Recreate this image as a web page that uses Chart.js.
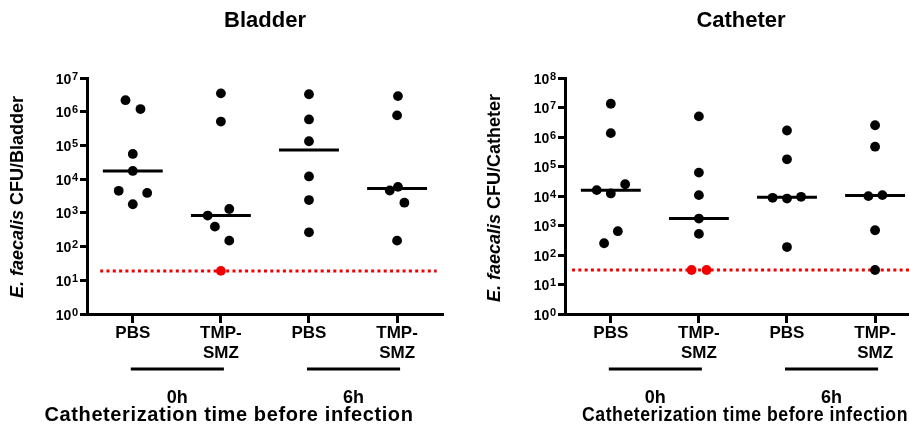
<!DOCTYPE html>
<html>
<head>
<meta charset="utf-8">
<script src="https://cdn.jsdelivr.net/npm/chart.js@4.4.1/dist/chart.umd.min.js"></script>
<style>
html, body { margin: 0; padding: 0; background: #fff; overflow: hidden; width: 909px; height: 428px; }
.panel { position: absolute; top: 0; width: 455px; height: 428px; }
#panel-bladder { left: 0; }
#panel-catheter { left: 478px; }
</style>
</head>
<body>
<div class="panel" id="panel-bladder"><canvas id="chart-bladder"></canvas></div>
<div class="panel" id="panel-catheter"><canvas id="chart-catheter"></canvas></div>
<script>
// categories
const groups = ['PBS', ['TMP-', 'SMZ'], 'PBS', ['TMP-', 'SMZ']];
const timeLabels = ['0h', '6h'];
const timeGroups = [[0, 1], [2, 3]];
const xTitle = 'Catheterization time before infection';

// y tick exponents (10^n)
const bladderExponents = [0, 1, 2, 3, 4, 5, 6, 7];
const catheterExponents = [0, 1, 2, 3, 4, 5, 6, 7, 8];

// Bladder CFU, per group, with horizontal spread (category units)
const bladderPbs0h = [2.2e6, 1.2e6, 5.6e4, 1.75e4, 4.5e3, 3.9e3, 1.8e3];
const bladderPbs0hSpread = [-0.083, 0.087, 0, 0, -0.16, 0.163, 0];
const bladderTmp0h = [3.5e6, 5.1e5, 1.3e3, 830, 390, 150];
const bladderTmp0hSpread = [0, 0, 0.095, -0.15, -0.068, 0.095];
const bladderPbs6h = [3.3e6, 5.9e5, 1.33e5, 1.2e4, 2.4e3, 265];
const bladderPbs6hSpread = [0, 0, 0, 0, 0, 0];
const bladderTmp6h = [2.9e6, 7.8e5, 5.9e3, 4.6e3, 2.0e3, 150];
const bladderTmp6hSpread = [0.01, 0, 0.01, -0.083, 0.083, 0];
const bladderTmp0hBelow = [19];
const bladderTmp0hBelowSpread = [0];
const bladderMedians = [1.75e4, 830, 7.3e4, 5.3e3];
const bladderLimit = 19;

// Catheter CFU
const catheterPbs0h = [1.34e7, 1.35e6, 2.5e4, 1.58e4, 1.22e4, 640, 250];
const catheterPbs0hSpread = [0, 0, 0.163, -0.16, 0, 0.08, -0.076];
const catheterTmp0h = [5.0e6, 6.2e4, 1.07e4, 1.72e3, 520];
const catheterTmp0hSpread = [0, 0, 0, 0, 0];
const catheterPbs6h = [1.66e6, 1.75e5, 8.7e3, 8.2e3, 9.4e3, 186];
const catheterPbs6hSpread = [0, 0, -0.163, 0, 0.16, 0];
const catheterTmp6h = [2.5e6, 4.7e5, 9.9e3, 1.07e4, 690, 31];
const catheterTmp6hSpread = [0, 0, -0.076, 0.083, 0, 0];
const catheterTmp0hBelow = [31, 31];
const catheterTmp0hBelowSpread = [-0.083, 0.087];
const catheterMedians = [1.58e4, 1.72e3, 9.1e3, 1.03e4];
const catheterLimit = 31;

const FONT = '"Liberation Sans", Arial, Helvetica, sans-serif';
const RED = '#f20000';

function toPoints(sets) {
    const pts = [];
    sets.forEach(([idx, vals, spread]) => {
        vals.forEach((v, j) => pts.push({ x: idx + spread[j], y: v }));
    });
    return pts;
}

const extras = {
    id: 'extras',
    afterDraw(chart, args, o) {
        const ctx = chart.ctx;
        const xs = chart.scales.x;
        const ys = chart.scales.y;
        const left = chart.chartArea.left;
        ctx.save();
        ctx.fillStyle = '#000';
        ctx.strokeStyle = '#000';

        // panel title
        ctx.font = `bold 22px ${FONT}`;
        ctx.textAlign = 'center';
        ctx.textBaseline = 'alphabetic';
        ctx.fillText(o.title, o.titleX, 27);

        // y axis title, italic species name
        ctx.save();
        ctx.translate(o.yTitleX, o.yTitleY);
        ctx.rotate(-Math.PI / 2);
        const fi = `italic bold 18px ${FONT}`, fb = `bold 18px ${FONT}`;
        ctx.font = fi; const w1 = ctx.measureText(o.yItalic).width;
        ctx.font = fb; const w2 = ctx.measureText(o.yRest).width;
        const x0 = -(w1 + w2) / 2;
        ctx.textAlign = 'left';
        ctx.textBaseline = 'middle';
        ctx.font = fi; ctx.fillText(o.yItalic, x0, 0);
        ctx.font = fb; ctx.fillText(o.yRest, x0 + w1, 0);
        ctx.restore();

        // y tick labels 10^n
        ys.ticks.forEach((t, i) => {
            const py = ys.getPixelForValue(t.value);
            const exp = String(o.exponents[i]);
            const expRight = left - 9;
            ctx.font = `bold 11px ${FONT}`;
            const ew = ctx.measureText(exp).width;
            ctx.textAlign = 'left';
            ctx.fillText(exp, expRight - ew, py + 1.5);
            ctx.font = `bold 14px ${FONT}`;
            ctx.textAlign = 'right';
            ctx.fillText('10', expRight - ew - 0.5, py + 5.5);
        });

        // time group brackets
        ctx.lineWidth = 3;
        ctx.font = `bold 18px ${FONT}`;
        ctx.textAlign = 'center';
        timeGroups.forEach(([a, b], k) => {
            const xa = xs.getPixelForValue(a) - 2;
            const xb = xs.getPixelForValue(b) + 3;
            ctx.beginPath();
            ctx.moveTo(xa, 369);
            ctx.lineTo(xb, 369);
            ctx.stroke();
            ctx.fillText(timeLabels[k], (xa + xb) / 2, 403);
        });

        // x title
        ctx.font = `bold 20px ${FONT}`;
        ctx.letterSpacing = '0.6px';
        ctx.fillText(xTitle, o.xTitleX, 421, o.xTitleMax);
        ctx.restore();
    }
};

function buildChart(canvasId, d) {
    const ctx = document.getElementById(canvasId).getContext('2d');
    const datasets = [
        { data: toPoints(d.points), backgroundColor: '#000', borderWidth: 0, pointRadius: 4.9, pointHoverRadius: 4.9, order: 0 },
        { data: toPoints(d.below), backgroundColor: RED, borderWidth: 0, pointRadius: 4.9, pointHoverRadius: 4.9, order: 0 }
    ];
    d.medians.forEach((m, i) => {
        datasets.push({ data: [{ x: i - 0.34, y: m }, { x: i + 0.34, y: m }], showLine: true, borderColor: '#000', borderWidth: 3, pointRadius: 0, order: 1 });
    });
    datasets.push({ data: [{ x: d.limitFrom, y: d.limit }, { x: d.limitTo, y: d.limit }], showLine: true, borderColor: RED, borderWidth: 3, borderDash: [3, 3.3], pointRadius: 0, order: 2 });

    return new Chart(ctx, {
        type: 'scatter',
        data: { datasets },
        options: {
            responsive: true,
            maintainAspectRatio: false,
            animation: false,
            layout: { padding: { top: 78, right: 13, left: 0, bottom: 0 } },
            plugins: {
                legend: { display: false },
                tooltip: { enabled: false },
                extras: d.extras
            },
            scales: {
                x: {
                    type: 'linear',
                    min: -0.52,
                    max: 3.51,
                    afterBuildTicks: s => { s.ticks = groups.map((g, i) => ({ value: i })); },
                    afterFit: s => { s.height = 114; },
                    ticks: {
                        callback: v => groups[v],
                        autoSkip: false,
                        maxRotation: 0,
                        padding: 0,
                        color: '#000',
                        font: { family: FONT, size: 17, weight: 'bold', lineHeight: 20 / 17 }
                    },
                    grid: { drawOnChartArea: false, drawTicks: true, tickLength: 9, lineWidth: 3, color: '#000' },
                    border: { display: true, width: 3, color: '#000' }
                },
                y: {
                    type: 'logarithmic',
                    min: 1,
                    max: Math.pow(10, d.exponents[d.exponents.length - 1]),
                    afterBuildTicks: s => { s.ticks = d.exponents.map(e => ({ value: Math.pow(10, e) })); },
                    afterFit: s => { s.width = 87; },
                    ticks: { display: false },
                    grid: { drawOnChartArea: false, drawTicks: true, tickLength: 7, lineWidth: 3, color: '#000' },
                    border: { display: true, width: 3, color: '#000' }
                }
            }
        },
        plugins: [extras]
    });
}

buildChart('chart-bladder', {
    points: [[0, bladderPbs0h, bladderPbs0hSpread], [1, bladderTmp0h, bladderTmp0hSpread], [2, bladderPbs6h, bladderPbs6hSpread], [3, bladderTmp6h, bladderTmp6hSpread]],
    below: [[1, bladderTmp0hBelow, bladderTmp0hBelowSpread]],
    medians: bladderMedians,
    limit: bladderLimit,
    limitFrom: -0.37,
    limitTo: 3.45,
    exponents: bladderExponents,
    extras: { title: 'Bladder', titleX: 265, yItalic: 'E. faecalis', yRest: ' CFU/Bladder', yTitleX: 18, yTitleY: 197, exponents: bladderExponents, xTitleX: 229, xTitleMax: 372 }
});

buildChart('chart-catheter', {
    points: [[0, catheterPbs0h, catheterPbs0hSpread], [1, catheterTmp0h, catheterTmp0hSpread], [2, catheterPbs6h, catheterPbs6hSpread], [3, catheterTmp6h, catheterTmp6hSpread]],
    below: [[1, catheterTmp0hBelow, catheterTmp0hBelowSpread]],
    medians: catheterMedians,
    limit: catheterLimit,
    limitFrom: -0.44,
    limitTo: 3.51,
    exponents: catheterExponents,
    extras: { title: 'Catheter', titleX: 263, yItalic: 'E. faecalis', yRest: ' CFU/Catheter', yTitleX: 17, yTitleY: 198, exponents: catheterExponents, xTitleX: 267, xTitleMax: 326 }
});
</script>
</body>
</html>
